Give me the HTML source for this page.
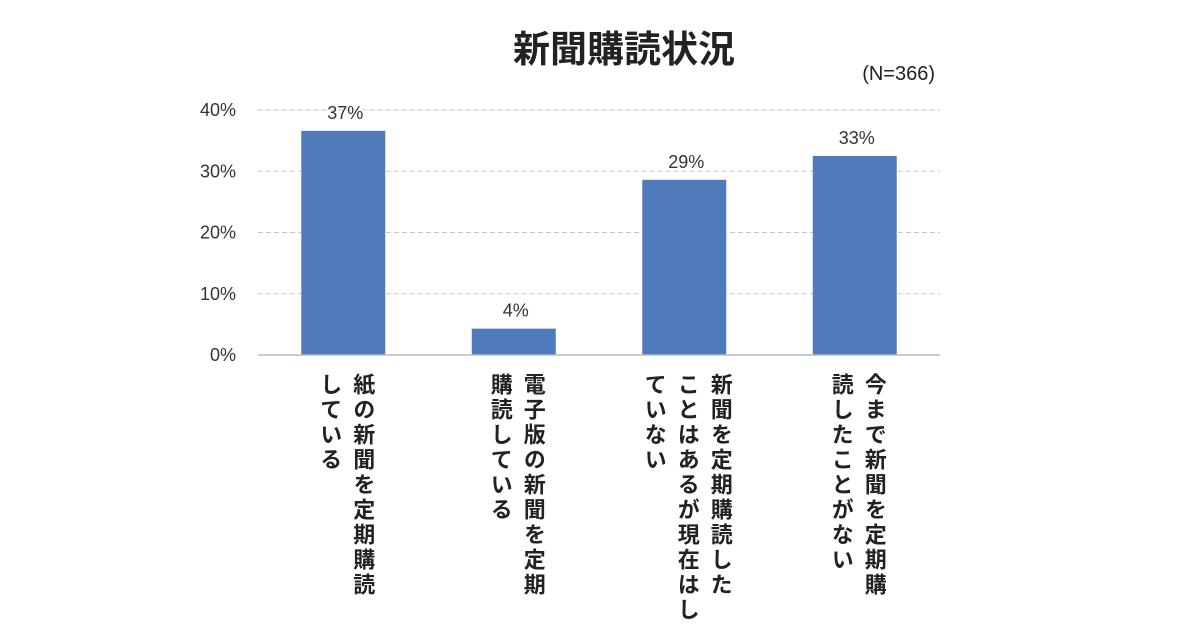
<!DOCTYPE html>
<html><head><meta charset="utf-8"><style>
body{margin:0;background:#fff;}
#c{position:relative;width:1200px;height:630px;background:#fff;font-family:"Liberation Sans","Noto Sans CJK JP",sans-serif;color:#222;}
.vl{position:absolute;top:373px;writing-mode:vertical-rl;font-size:22px;line-height:33px;letter-spacing:3px;font-weight:bold;color:#222;white-space:pre;font-family:"Noto Sans CJK JP",sans-serif;}
</style></head><body>
<div id="c">
<svg id="s" width="1200" height="630" style="position:absolute;left:0;top:0">
<text x="624" y="62" text-anchor="middle" font-size="37" font-weight="bold" fill="#222" font-family="Noto Sans CJK JP, sans-serif">新聞購読状況</text>
<text x="935" y="80" text-anchor="end" font-size="20" fill="#222" font-family="Liberation Sans, sans-serif">(N=366)</text>
</svg>
</div>
<script>
const categories=["紙の新聞を定期購読\nしている","電子版の新聞を定期\n購読している","新聞を定期購読した\nことはあるが現在はし\nていない","今まで新聞を定期購\n読したことがない"];
const values=[36.6,4.3,28.6,32.5];
const valueLabels=["37%","4%","29%","33%"];
const ticks=[0,10,20,30,40];
const NS="http://www.w3.org/2000/svg";
const svg=document.getElementById('s');
const c=document.getElementById('c');
const x0=258,x1=940,y0=355,yTop=110;
const y=v=>y0-(v/40)*(y0-yTop);
const step=(x1-x0)/categories.length;
const bx=i=>x0+step*(i+0.5);
function mk(t,a){const e=document.createElementNS(NS,t);for(const k in a)e.setAttribute(k,a[k]);svg.appendChild(e);return e;}
ticks.forEach(t=>{
  if(t>0){const g=mk('line',{x1:x0,x2:x1,y1:y(t),y2:y(t),stroke:'#c8c8c8','stroke-width':1,'stroke-dasharray':'5,3'});
  
  }
  const l=mk('text',{x:236,y:y(t)+6,'text-anchor':'end','font-size':18,fill:'#333','font-family':'Liberation Sans, sans-serif'});
  l.textContent=t+'%';
  
  
});
values.forEach((v,i)=>{
  const w=84;
  const r=mk('rect',{x:bx(i)-w/2,y:y(v),width:w,height:y0-y(v),fill:'#4f7bbd'});
  
  
  const t=mk('text',{x:bx(i)+2,y:y(v)-12,'text-anchor':'middle','font-size':18,fill:'#333','font-family':'Liberation Sans, sans-serif'});
  t.textContent=valueLabels[i];
  
  
});
const ax=mk('line',{x1:x0,x2:x1,y1:y0,y2:y0,stroke:'#bbb','stroke-width':1.5});


categories.forEach((cat,i)=>{
  const d=document.createElement('div');
  d.className='vl';
  d.textContent=cat;
  
  
  c.appendChild(d);
  const w=d.offsetWidth;
  d.style.left=(bx(i)+4-w/2)+'px';
});
</script>
</body></html>
